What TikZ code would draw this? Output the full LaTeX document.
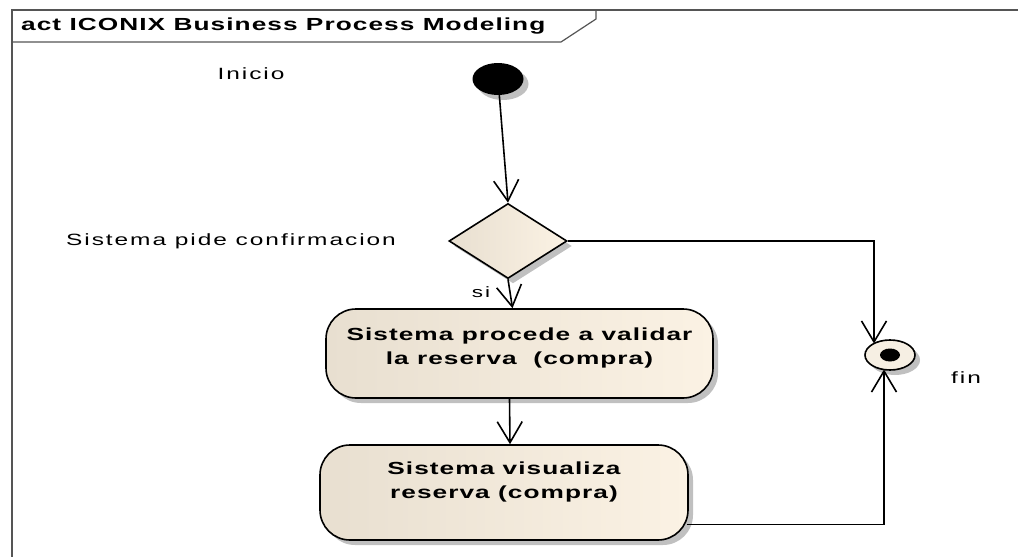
\documentclass[tikz,border=0pt]{standalone}
\usepackage{fontspec}
\setmainfont{Liberation Sans}
\newfontfamily\eaf[FakeStretch=1.5,LetterSpace=12]{Liberation Sans}
\newfontfamily\eafb[FakeStretch=1.5,LetterSpace=6]{Liberation Sans}
\usetikzlibrary{shapes.geometric,arrows.meta,shadows,calc}
\definecolor{actL}{RGB}{232,223,208}
\definecolor{actR}{RGB}{251,242,228}
\definecolor{finC}{RGB}{246,239,227}
\definecolor{frameC}{RGB}{85,85,85}
\definecolor{shadowC}{RGB}{192,192,192}
\begin{document}
\begin{tikzpicture}[x=1pt,y=-1pt,
  shad/.style={drop shadow={shadow xshift=5pt,shadow yshift=-5pt,fill=shadowC,opacity=1}},
  actbox/.style={rectangle,rounded corners=30pt,draw=black,line width=1.6pt,
    left color=actL,right color=actR,shad,align=center,inner sep=0pt,
    font=\eafb\bfseries\fontsize{17.5}{24}\selectfont},
  flow/.style={draw=black,line width=1.6pt,
    -{Straight Barb[length=21pt,width=25pt,line width=1.6pt]}},
  lbl/.style={font=\eaf\fontsize{16.3}{20}\selectfont,inner sep=0pt},
  ttl/.style={font=\eafb\bfseries\fontsize{17.5}{22}\selectfont,inner sep=0pt,anchor=west}
]
\useasboundingbox (0,0) rectangle (1018,557);
\fill[white] (0,0) rectangle (1018,557);
% frame
\draw[frameC,line width=1.5pt] (12,557) -- (12,10) -- (1018,10);
\draw[frameC,line width=1.2pt] (12,42) -- (561,42) -- (596,19) -- (596,10);
\node[ttl] (title) at (21,26) {act ICONIX Business Process Modeling};
% nodes
\node[ellipse,fill=black,minimum width=51pt,minimum height=32pt,inner sep=0pt,shad] (init) at (498,79) {};
\node[diamond,draw=black,line width=1.6pt,left color=actL,right color=actR,
  minimum width=118pt,minimum height=75pt,inner sep=0pt,shad] (dec) at (508,241) {};
\node[actbox,minimum width=387pt,minimum height=89pt] (act1) at (519.5,353.5)
  {Sistema procede a validar\\la reserva~ (compra)\\[-10pt]\mbox{}};
\node[actbox,minimum width=368pt,minimum height=95pt] (act2) at (504,492.5)
  {Sistema visualiza\\reserva (compra)\\\mbox{}};
\node[ellipse,draw=black,line width=1.6pt,fill=finC,minimum width=50pt,minimum height=30pt,
  inner sep=0pt,shad] (fin) at (890,355) {};
\node[ellipse,fill=black,minimum width=20pt,minimum height=13pt,inner sep=0pt] (finin) at (fin.center) {};
% labels
\node[lbl] (linicio) at (251,74) {Inicio};
\node[lbl] (ldec) at (231,241) {Sistema pide confirmacion};
\node[lbl] (lfin) at (966,378) {fin};
\node[lbl,font=\eaf\fontsize{15}{18}\selectfont] (lsi) at (481,292) {si};
% connectors
\coordinate (finT) at ($(fin.center)+(-16,-11.5)$);
\coordinate (finB) at ($(fin.center)+(-6,14.5)$);
\draw[flow] (init) -- (dec.north);
\draw[flow] (dec.south) -- ($(act1.north)+(-7,0)$);
\draw[flow] ($(act1.south)+(-10,0)$) -- ($(act2.north)+(6,0)$);
\draw[flow] (dec.east) -| (finT);
\draw[flow] ($(act2.east)+(-2,32)$) -| (finB);
\end{tikzpicture}
\end{document}
